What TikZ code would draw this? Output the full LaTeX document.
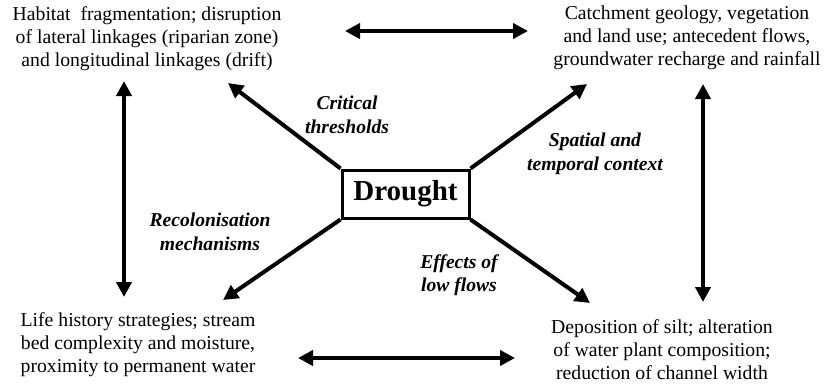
\documentclass[tikz,border=0pt]{standalone}
\usepackage{fontspec}
\setmainfont{Liberation Serif}
\newfontfamily\tnr{Liberation Serif}
\usetikzlibrary{arrows.meta}
\begin{document}
\begin{tikzpicture}[x=1pt,y=-1pt,
  txt/.style={align=center,inner sep=0pt,font=\tnr\fontsize{19.7}{23}\selectfont},
  lbl/.style={align=center,inner sep=0pt,font=\tnr\fontsize{19.6}{23.5}\selectfont\bfseries\itshape},
  arr/.style={line width=4pt,-{Triangle[length=15pt,width=15pt]}},
  darr/.style={line width=4pt,{Triangle[length=15pt,width=15pt]}-{Triangle[length=15pt,width=15pt]}}]
\useasboundingbox (0,0) rectangle (827,384);
\node[draw,line width=3pt,minimum width=127pt,minimum height=48pt,inner sep=0pt,font=\tnr\fontsize{29}{31}\selectfont\bfseries] (d) at (405.5,194) {Drought};
\node[txt] (tl) at (147,39) {Habitat\ \ fragmentation; disruption\\of lateral linkages (riparian zone)\\and longitudinal linkages (drift)};
\node[txt] (tr) at (687,38) {Catchment geology, vegetation\\and land use; antecedent flows,\\groundwater recharge and rainfall};
\node[txt] (bl) at (138,345) {Life history strategies; stream\\bed complexity and moisture,\\proximity to permanent water};
\node[txt] (br) at (662,350) {Deposition of silt; alteration\\of water plant composition;\\reduction of channel width};
\node[lbl] (l1) at (347,115) {Critical\\thresholds};
\node[lbl] (l2) at (595,154) {Spatial and\\temporal context};
\node[lbl] (l3) at (210,232) {Recolonisation\\mechanisms};
\node[lbl] (l4) at (459,275) {Effects of\\low flows};
\coordinate (ptl) at (228,83);
\coordinate (ptr) at (587,84);
\coordinate (pbl) at (223,300);
\coordinate (pbr) at (590,303);
\draw[arr] (d.north west) -- (ptl);
\draw[arr] (d.north east) -- (ptr);
\draw[arr] (d.south west) -- (pbl);
\draw[arr] (d.south east) -- (pbr);
\coordinate (lv1) at (124,81);
\coordinate (lv2) at (124,297);
\coordinate (rv1) at (703,84);
\coordinate (rv2) at (703,302);
\coordinate (th1) at (345,31);
\coordinate (th2) at (528,31);
\coordinate (bh1) at (298,358);
\coordinate (bh2) at (515,358);
\draw[darr] (lv1) -- (lv2);
\draw[darr] (rv1) -- (rv2);
\draw[darr] (th1) -- (th2);
\draw[darr] (bh1) -- (bh2);
\end{tikzpicture}
\end{document}
